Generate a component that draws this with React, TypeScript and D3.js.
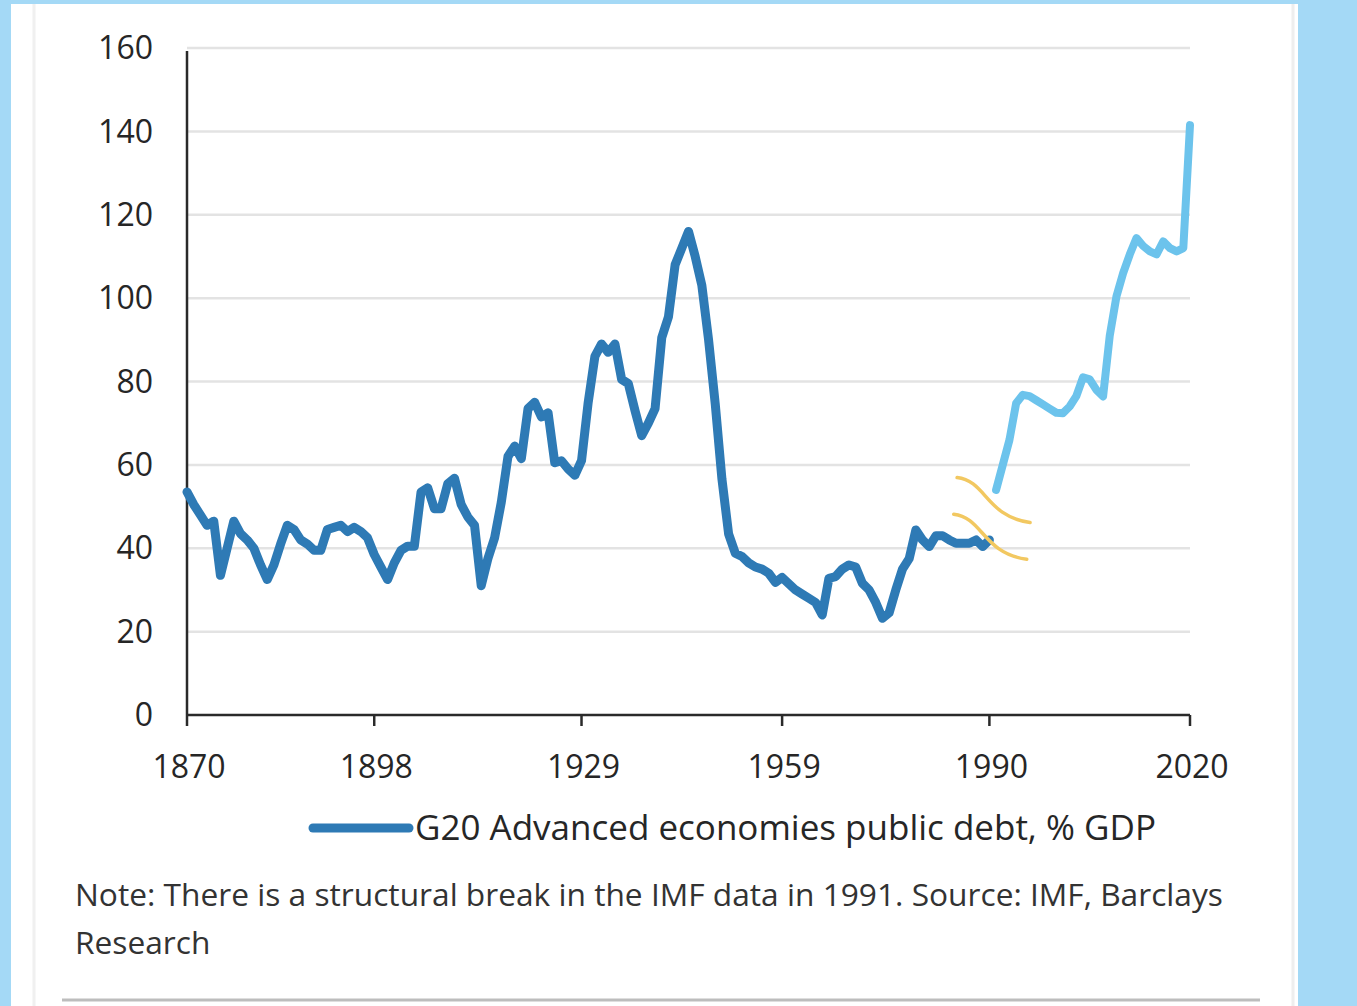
import React from "react";
import * as d3 from "d3";

// Data
const historicalStartYear = 1870; // 1870..1990, dark blue series
const historicalDebt = [
  53.5, 50.5, 48, 45.5, 46.5, 33.5, 40, 46.5, 43.5, 42, // 1870-1879
  40, 36, 32.5, 36, 41, 45.5, 44.5, 42, 41, 39.5, // 1880-1889
  39.5, 44.5, 45, 45.5, 44, 45, 44, 42.5, 38.5, 35.5, // 1890-1899
  32.5, 36.5, 39.5, 40.5, 40.5, 53.5, 54.5, 49.5, 49.5, 55.5, // 1900-1909
  56.8, 50.5, 47.5, 45.5, 31, 37.5, 42.5, 51, 62, 64.5, // 1910-1919
  61.5, 73.5, 75, 71.5, 72.5, 60.5, 61, 59, 57.5, 61, // 1920-1929
  75, 86, 89, 87, 89, 80.5, 79.5, 73, 67, 70, // 1930-1939
  73.5, 90.5, 95.5, 108, 112, 116, 110, 103, 90, 74.6, // 1940-1949
  56.6, 43.4, 38.8, 38, 36.5, 35.5, 35, 34, 31.8, 33, // 1950-1959
  31.5, 30, 29, 28, 27, 24, 32.8, 33.2, 35, 36, // 1960-1969
  35.5, 31.6, 30, 27, 23.2, 24.5, 30, 35, 37.5, 44.4, // 1970-1979
  42, 40.4, 43, 43, 42, 41.2, 41.2, 41.2, 42, 40.4, // 1980-1989
  42, // 1990
];
const recentStartYear = 1991; // 1991..2020, light blue series
const recentDebt = [
  54, 60, 66, 74.8, 76.8, 76.5, 75.5, 74.5, 73.5, 72.5, // 1991-2000
  72.4, 74, 76.5, 81, 80.5, 78, 76.4, 91, 100.4, 106, // 2001-2010
  110.5, 114.4, 112.5, 111.2, 110.5, 113.6, 112, 111.2, 112, 141.5, // 2011-2020
];
const yTicks = [0, 20, 40, 60, 80, 100, 120, 140, 160];
const xTicks = [1870, 1898, 1929, 1959, 1990, 2020];
const legendLabel = "G20 Advanced economies public debt, % GDP";
const noteLine1 = "Note: There is a structural break in the IMF data in 1991. Source: IMF, Barclays";
const noteLine2 = "Research";
// Structural break markers (year, value) centres
const breakMarks = [
  { year: 1990.7, value: 52.4 },
  { year: 1990.2, value: 43.6 },
];

const W = 1357;
const H = 1006;
const FONT = "'Open Sans', 'Noto Sans', sans-serif";

export default function App() {
  const x = d3.scaleLinear().domain([1870, 2020]).range([187, 1190]);
  const y = d3.scaleLinear().domain([0, 160]).range([715, 48]);

  const hist = historicalDebt.map((v, i) => ({ year: historicalStartYear + i, v }));
  const rec = recentDebt.map((v, i) => ({ year: recentStartYear + i, v }));

  const line = d3
    .line<{ year: number; v: number }>()
    .x((d) => x(d.year))
    .y((d) => y(d.v))
    .curve(d3.curveLinear);

  const [x0, x1] = x.range();

  return (
    <div style={{ position: "absolute", left: 0, top: 0 }}>
      <svg width={W} height={H} viewBox={`0 0 ${W} ${H}`} style={{ display: "block" }}>
        {/* light blue frame */}
        <rect x={0} y={0} width={W} height={H} fill="#a4d9f6" />
        <rect x={11} y={4} width={1287} height={H - 4} fill="#ffffff" />
        <line x1={34} x2={34} y1={4} y2={H} stroke="#f0f0f0" strokeWidth={3} />
        <line x1={1293} x2={1293} y1={4} y2={H} stroke="#eeeeee" strokeWidth={3} />

        {/* gridlines */}
        {yTicks.filter((t) => t > 0).map((t) => (
          <line key={t} x1={x0} x2={x1} y1={y(t)} y2={y(t)} stroke="#e3e3e3" strokeWidth={2.5} />
        ))}

        {/* axes */}
        <line x1={x0} x2={x0} y1={y(160) + 3} y2={y(0)} stroke="#2a2a2a" strokeWidth={2.5} />
        <line x1={x0} x2={x1} y1={y(0)} y2={y(0)} stroke="#2a2a2a" strokeWidth={2.5} />
        {xTicks.map((t) => (
          <line key={t} x1={x(t)} x2={x(t)} y1={y(0)} y2={y(0) + 11} stroke="#2a2a2a" strokeWidth={2.5} />
        ))}

        {/* y tick labels */}
        {yTicks.map((t) => (
          <text
            key={t}
            x={153}
            y={y(t)}
            dy="0.35em"
            textAnchor="end"
            fontFamily={FONT}
            fontSize={32}
            fill="#262626"
          >
            {t}
          </text>
        ))}
        {/* x tick labels */}
        {xTicks.map((t) => (
          <text
            key={t}
            x={x(t) + 2}
            y={778}
            textAnchor="middle"
            fontFamily={FONT}
            fontSize={32}
            fill="#262626"
          >
            {t}
          </text>
        ))}

        {/* series */}
        <path
          d={line(rec) || ""}
          fill="none"
          stroke="#6cc3ec"
          strokeWidth={8}
          strokeLinejoin="round"
          strokeLinecap="round"
        />
        <path
          d={line(hist) || ""}
          fill="none"
          stroke="#2e7ab5"
          strokeWidth={9}
          strokeLinejoin="round"
          strokeLinecap="round"
        />

        {/* structural break marks */}
        {breakMarks.map((b, i) => {
          const cx = x(b.year);
          const cy = y(b.value);
          return (
            <path
              key={i}
              d={`M${cx - 37},${cy - 19} C${cx - 8},${cy - 16} ${cx - 8},${cy + 20} ${cx + 36},${cy + 26}`}
              fill="none"
              stroke="#f2c861"
              strokeWidth={3.5}
              strokeLinecap="round"
            />
          );
        })}

        {/* legend */}
        <line x1={313} x2={409} y1={828} y2={828} stroke="#2e7ab5" strokeWidth={9} strokeLinecap="round" />
        <text x={415} y={828} dy="0.35em" fontFamily={FONT} fontSize={35} fill="#262626">
          {legendLabel}
        </text>

        {/* note */}
        <text x={75} y={895} dy="0.35em" fontFamily={FONT} fontSize={31.7} fill="#333333">
          {noteLine1}
        </text>
        <text x={75} y={943} dy="0.35em" fontFamily={FONT} fontSize={31.7} fill="#333333">
          {noteLine2}
        </text>

        {/* bottom rule */}
        <line x1={62} x2={1260} y1={1000} y2={1000} stroke="#bdbdbd" strokeWidth={3} />
      </svg>
    </div>
  );
}
